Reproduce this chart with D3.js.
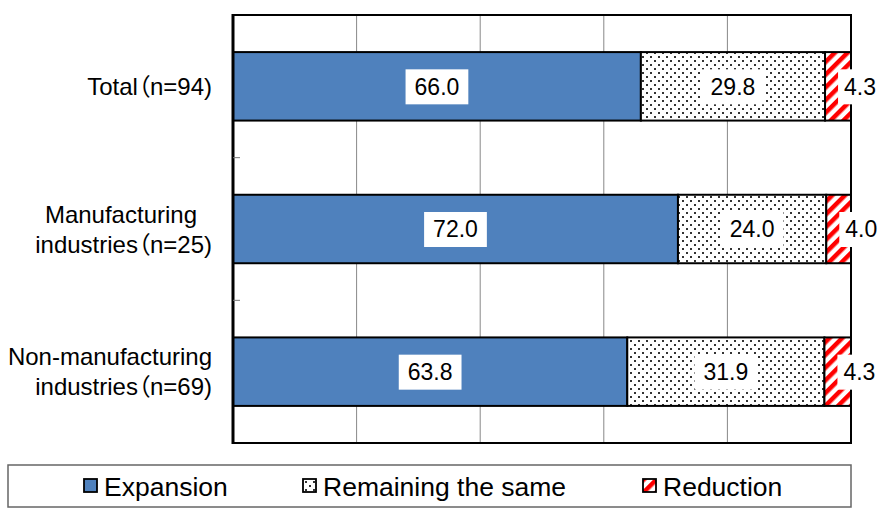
<!DOCTYPE html>
<html>
<head>
<meta charset="utf-8">
<script src="https://cdn.jsdelivr.net/npm/d3@7/dist/d3.min.js"></script>
<style>
  html, body { margin: 0; padding: 0; background: #fff; }
  svg { display: block; font-family: Arial, "Liberation Sans", sans-serif; }
  .cat { font-family: Arial, "Liberation Sans", "Noto Sans CJK JP", sans-serif; font-feature-settings: "palt" 1; }
</style>
</head>
<body>
<svg id="chart" width="895" height="512"></svg>
<script>
// Survey groups and the share (%) answering each way
const categories = ["Total（n=94)", "Manufacturing industries（n=25)", "Non-manufacturing industries（n=69)"];
const categoryLines = [["Total（n=94)"], ["Manufacturing", "industries（n=25)"], ["Non-manufacturing", "industries（n=69)"]];
const seriesNames = ["Expansion", "Remaining the same", "Reduction"];
const expansion = [66.0, 72.0, 63.8];
const remaining = [29.8, 24.0, 31.9];
const reduction = [4.3, 4.0, 4.3];
const xTicks = [0, 20, 40, 60, 80, 100];

const svg = d3.select("#chart");
const margin = { left: 233, right: 44, top: 15, bottom: 69 };
const W = 895, H = 512;
const plotW = W - margin.left - margin.right;
const plotH = H - margin.top - margin.bottom;

// Fill patterns
const defs = svg.append("defs");
const dots = defs.append("pattern").attr("id", "dots")
  .attr("patternUnits", "userSpaceOnUse").attr("width", 8).attr("height", 8);
dots.append("rect").attr("width", 8).attr("height", 8).attr("fill", "#fff");
dots.append("rect").attr("x", 1).attr("y", 1).attr("width", 2).attr("height", 2).attr("fill", "#333");
dots.append("rect").attr("x", 5).attr("y", 5).attr("width", 2).attr("height", 2).attr("fill", "#333");

const stripes = defs.append("pattern").attr("id", "stripes")
  .attr("patternUnits", "userSpaceOnUse").attr("width", 9).attr("height", 9)
  .attr("patternTransform", "rotate(45)");
stripes.append("rect").attr("width", 9).attr("height", 9).attr("fill", "#fff");
stripes.append("rect").attr("width", 4.5).attr("height", 9).attr("fill", "#ff0000");

const fills = ["#4f81bd", "url(#dots)", "url(#stripes)"];

const x = d3.scaleLinear().domain([0, 100]).range([0, plotW]);
const y = d3.scaleBand().domain(categories).range([0, plotH]).paddingInner(0.52).paddingOuter(0.26);

const g = svg.append("g").attr("transform", `translate(${margin.left},${margin.top})`);

// Vertical gridlines
g.append("g").selectAll("line").data(xTicks.slice(1, -1)).join("line")
  .attr("x1", d => x(d)).attr("x2", d => x(d))
  .attr("y1", 0).attr("y2", plotH)
  .attr("stroke", "#888").attr("stroke-width", 1);

// Stacked bars
const rows = categories.map((c, i) => ({ cat: c, vals: [expansion[i], remaining[i], reduction[i]] }));
const stack = d3.stack().keys([0, 1, 2]).value((d, k) => d.vals[k]);
const layers = stack(rows);

layers.forEach((layer, k) => {
  g.append("g").selectAll("rect").data(layer).join("rect")
    .attr("x", d => x(d[0]))
    .attr("width", d => Math.min(x(d[1]), plotW) - x(d[0]))
    .attr("y", d => y(d.data.cat))
    .attr("height", y.bandwidth())
    .attr("fill", fills[k])
    .attr("stroke", "#000").attr("stroke-width", 2);
});

// Plot frame (top, right, bottom)
g.append("path")
  .attr("d", `M0,0H${plotW}V${plotH}H0`)
  .attr("fill", "none").attr("stroke", "#000").attr("stroke-width", 2);

// Category axis with inner ticks between groups
const yAxis = g.append("g");
yAxis.append("line").attr("x1", 0).attr("x2", 0).attr("y1", -1).attr("y2", plotH + 1)
  .attr("stroke", "#000").attr("stroke-width", 3);
yAxis.selectAll("line.tick").data(d3.range(1, categories.length)).join("line")
  .attr("class", "tick")
  .attr("x1", 0).attr("x2", 7)
  .attr("y1", i => y(categories[i]) - (y.step() - y.bandwidth()) / 2)
  .attr("y2", i => y(categories[i]) - (y.step() - y.bandwidth()) / 2)
  .attr("stroke", "#777").attr("stroke-width", 1);

// Category labels
const labelAnchorX = -21;
categoryLines.forEach((lines, i) => {
  const cy = y(categories[i]) + y.bandwidth() / 2;
  const lh = 30;
  const t = g.append("text")
    .attr("class", "cat")
    .attr("font-size", 24).attr("fill", "#000")
    .attr("text-anchor", "end");
  lines.forEach((ln, j) => {
    const offX = (i === 1 && j === 0) ? -15 : 0;
    t.append("tspan")
      .attr("x", labelAnchorX + offX)
      .attr("y", cy + (j - (lines.length - 1) / 2) * lh)
      .attr("dy", "0.36em")
      .text(ln);
  });
});

// Value labels in white boxes
const fmt = d3.format(".1f");
layers.forEach((layer, k) => {
  layer.forEach(d => {
    const v = d.data.vals[k];
    const cx = k === 2 ? x(d[0]) + 35 : (x(d[0]) + x(d[1])) / 2;
    const cy = y(d.data.cat) + y.bandwidth() / 2;
    const lg = g.append("g");
    const txt = lg.append("text")
      .attr("x", cx).attr("y", cy).attr("dy", "0.36em")
      .attr("text-anchor", "middle")
      .attr("font-size", 23).attr("fill", "#000")
      .text(fmt(v));
    const bb = txt.node().getBBox();
    const padX = k === 2 ? 6 : 9;
    lg.insert("rect", "text")
      .attr("x", bb.x - padX).attr("width", bb.width + padX * 2)
      .attr("y", cy - 17).attr("height", 35)
      .attr("fill", "#fff");
  });
});

// Legend
const legend = svg.append("g");
legend.append("rect")
  .attr("x", 8).attr("y", 465).attr("width", 843).attr("height", 42)
  .attr("fill", "#fff").attr("stroke", "#666").attr("stroke-width", 1.5);
const legendX = [84, 303, 643];
seriesNames.forEach((name, k) => {
  const lx = legendX[k], ly = 486;
  legend.append("rect")
    .attr("x", lx).attr("y", ly - 7).attr("width", 13).attr("height", 13)
    .attr("fill", fills[k]).attr("stroke", "#000").attr("stroke-width", 1.8);
  legend.append("text")
    .attr("x", lx + 20).attr("y", ly).attr("dy", "0.36em")
    .attr("font-size", 26.5).attr("fill", "#000")
    .text(name);
});
</script>
</body>
</html>
